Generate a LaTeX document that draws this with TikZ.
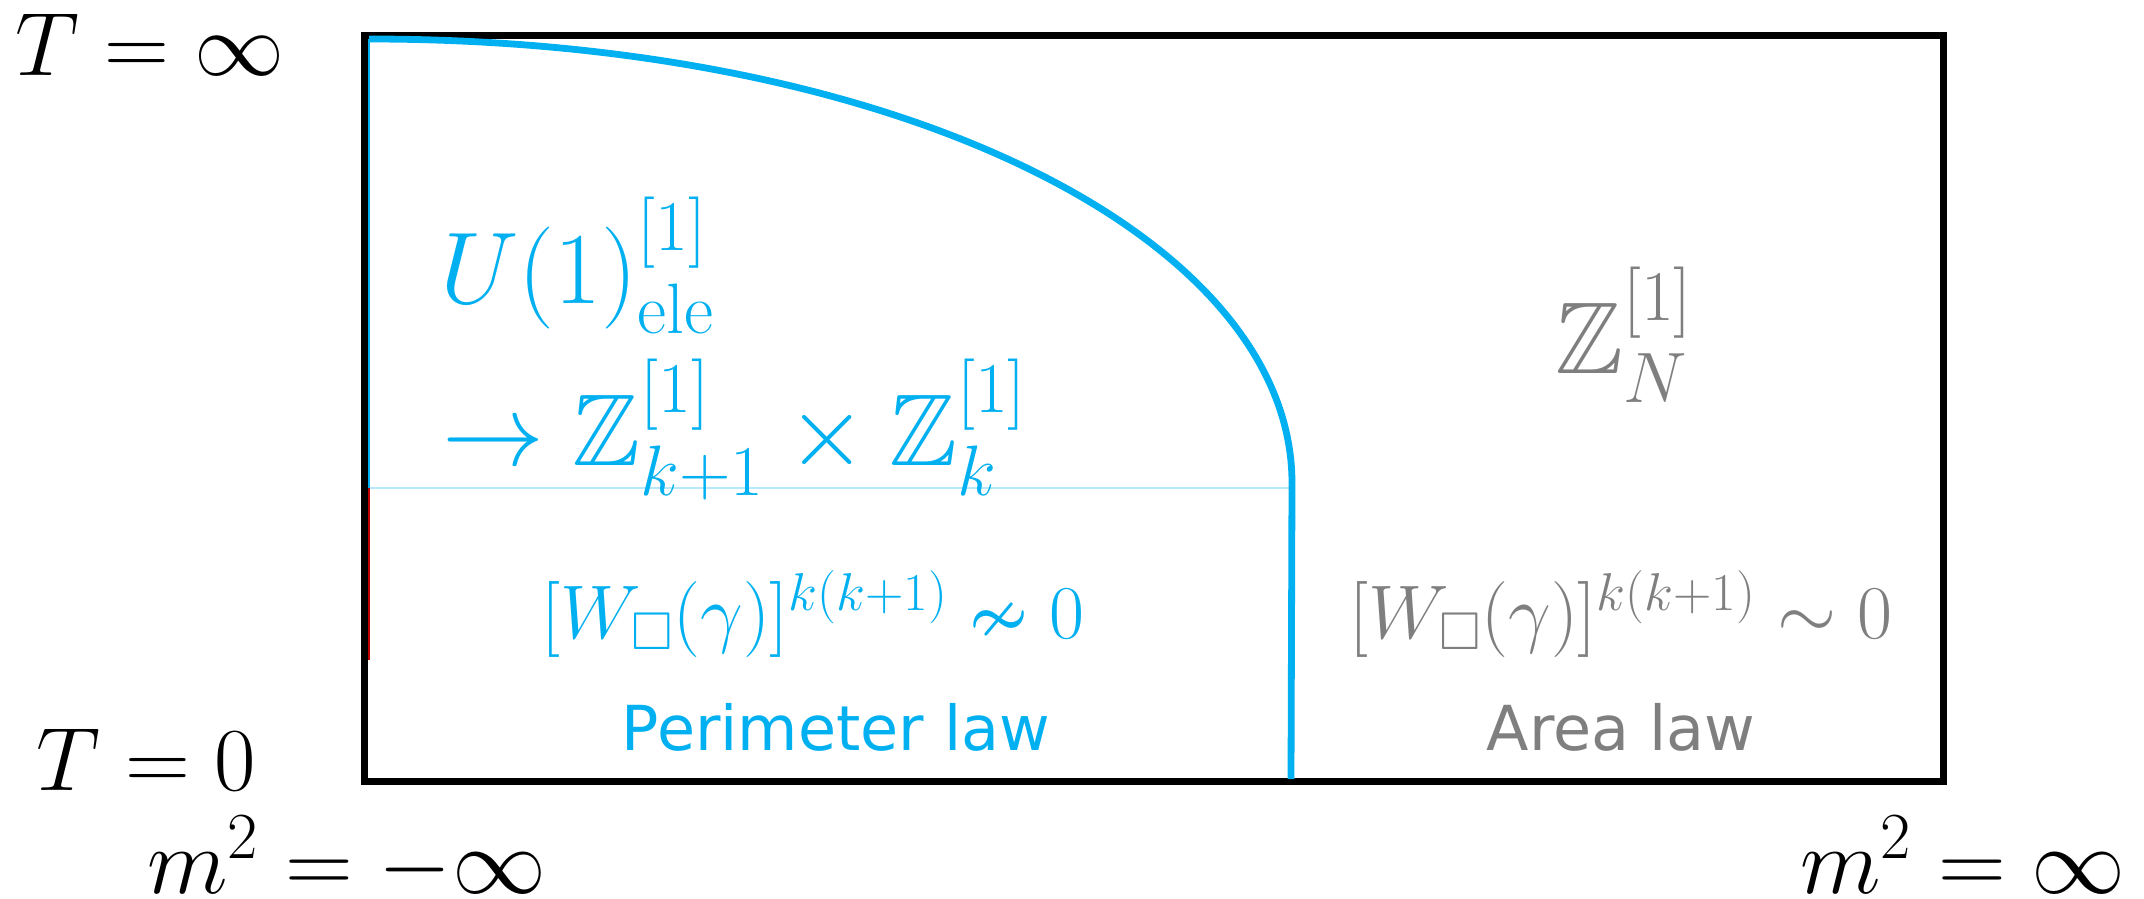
\RequirePackage{fix-cm}
\documentclass[tikz,border=0pt]{standalone}
\usepackage{amssymb}
\usepackage{fontspec}
\newfontfamily\lawfont{DejaVu Sans}
\definecolor{phblue}{HTML}{00B0F0}
\definecolor{phgray}{HTML}{7F7F7F}
\definecolor{phlight}{HTML}{B5E9FB}
\definecolor{phred}{HTML}{C00000}
\begin{document}
\begin{tikzpicture}[x=0.5pt,y=-0.5pt,
  lab/.style={inner sep=0pt, anchor=base west, font=\fontsize{45}{54}\selectfont},
  mlab/.style={inner sep=0pt, anchor=base west, font=\fontsize{47}{56}\selectfont},
  bigmath/.style={inner sep=0pt, anchor=base west, font=\fontsize{51}{60}\selectfont},
  wil/.style={inner sep=0pt, anchor=base, font=\fontsize{38}{46}\selectfont},
  law/.style={inner sep=0pt, anchor=base, font=\lawfont\fontsize{31}{37}\selectfont},
  frame/.style={line width=3.5pt},
  boundary/.style={phblue, line width=3.4pt},
  hair/.style={line width=1pt}
]
\useasboundingbox (0,0) rectangle (2144,899);
\fill[white] (0,0) rectangle (2144,899);
% coordinates
\coordinate (tl) at (369,39);
\coordinate (mid) at (1292,483);
\coordinate (bot) at (1291,779);
\coordinate (lmid) at (369,488);
\coordinate (rmid) at (1291,488);
\coordinate (lred) at (369,660);
% thin lines
\draw[hair, phlight] (lmid) -- (rmid);
\draw[hair, phblue] (tl) -- (lmid);
\draw[hair, phred] (lmid) -- (lred);
% frame
\draw[frame] (364,35.5) rectangle (1943,781.5);
% phase boundary
\draw[boundary] (tl) .. controls (899,39) and (1292,238) .. (mid) -- (bot);
% labels
\node[lab] (tinf) at (15,76) {$T=\infty$};
\node[lab] (tzero) at (36,790) {$T=0$};
\node[mlab] (mminus) at (147,893) {$m^2=-\infty$};
\node[mlab] (mplus) at (1800,893) {$m^2=\infty$};
\node[bigmath, text=phblue] (u1) at (440,303) {$U(1)^{[1]}_{\mathrm{ele}}$};
\node[bigmath, text=phblue] (brk) at (442,465) {$\to\mathbb{Z}^{[1]}_{k+1}\times\mathbb{Z}^{[1]}_{k}$};
\node[bigmath, text=phgray] (zn) at (1555,373) {$\mathbb{Z}^{[1]}_{N}$};
\node[wil, text=phblue] (wpl) at (813,638) {$[W_\square(\gamma)]^{k(k+1)}\nsim 0$};
\node[wil, text=phgray] (wal) at (1621,638) {$[W_\square(\gamma)]^{k(k+1)}\sim 0$};
\node[law, text=phblue] (perim) at (836,750) {Perimeter law};
\node[law, text=phgray] (area) at (1621,750) {Area law};
\end{tikzpicture}
\end{document}
